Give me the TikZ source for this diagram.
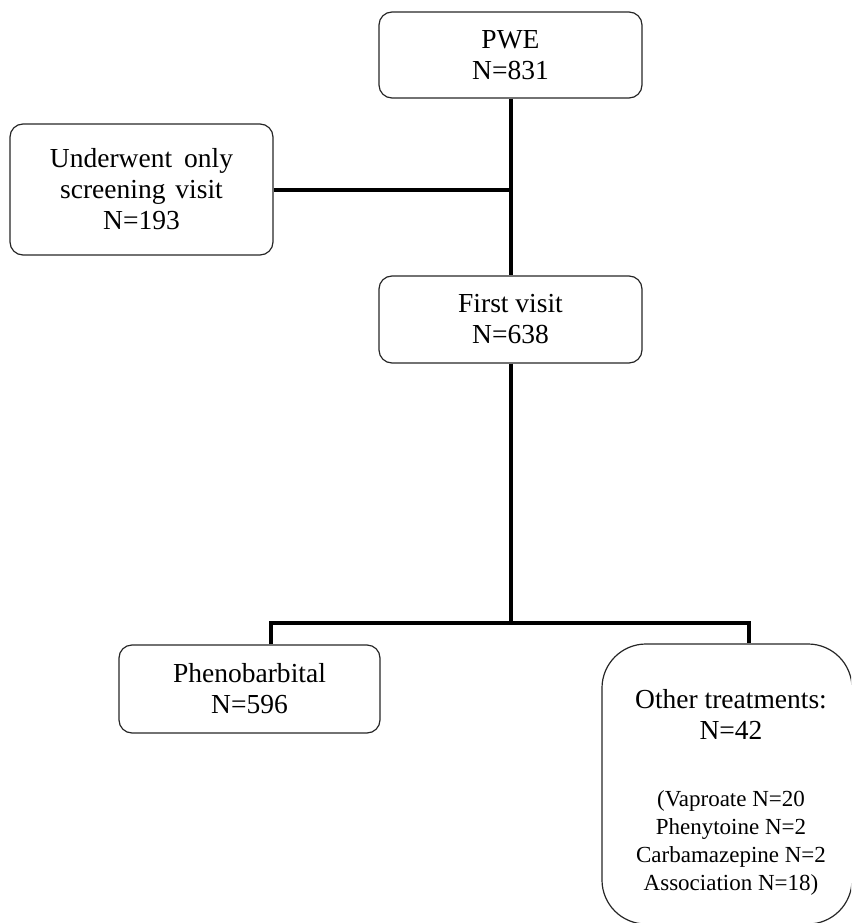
\documentclass[tikz,border=0pt]{standalone}
\usepackage{fontspec}
\setmainfont{Liberation Serif}
\usetikzlibrary{calc}

\begin{document}
\begin{tikzpicture}[x=1pt,y=-1pt,line join=miter,
  box/.style={draw=black!85,line width=1.2pt,rounded corners=13pt,inner sep=0pt,align=center,
    font=\fontsize{27.5}{31}\selectfont},
  conn/.style={line width=4pt}]
  \path[use as bounding box,clip] (0,0) rectangle (851,923);
  \node[box,minimum width=263pt,minimum height=86pt] (pwe) at (510.5,55) {PWE\\N=831};
  \node[box,minimum width=263pt,minimum height=131pt] (under) at (141.5,189.5)
    {Underwent\hspace{12pt}only\\screening\hspace{10pt}visit\\N=193};
  \node[box,minimum width=263pt,minimum height=87pt] (visit) at (510.5,319.5) {First visit\\N=638};
  \node[box,minimum width=261pt,minimum height=88pt] (pheno) at (249.5,689) {Phenobarbital\\N=596};
  \node[box,rounded corners=44pt,minimum width=250pt,minimum height=280pt] (other) at (727,784) {};
  \node[align=center,inner sep=0pt,font=\fontsize{27.5}{31}\selectfont] (othertitle) at (731,714)
    {Other treatments:\\N=42};
  \node[align=center,inner sep=0pt,font=\fontsize{23}{28}\selectfont] (otherlist) at (731,843)
    {(Vaproate N=20\\Phenytoine N=2\\Carbamazepine N=2\\Association N=18)};
  \coordinate (lbranch) at (271,623);
  \coordinate (rbranch) at (749,623);
  \draw[conn] (pwe.south) -- (visit.north);
  \draw[conn] (under.east) -- (under.east -| pwe.south);
  \draw[conn] (visit.south) -- (visit.south |- lbranch);
  \draw[conn] (lbranch |- pheno.north) -- (lbranch) -- (rbranch) -- (rbranch |- other.north);
\end{tikzpicture}
\end{document}
